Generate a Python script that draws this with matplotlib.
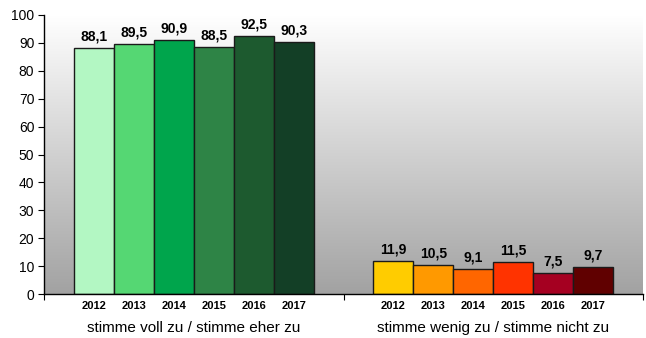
import numpy as np
import matplotlib
matplotlib.use("Agg")
import matplotlib.pyplot as plt

plt.rcParams['font.family'] = ['Liberation Sans', 'DejaVu Sans']

categories = ["stimme voll zu / stimme eher zu", "stimme wenig zu / stimme nicht zu"]
years = ["2012", "2013", "2014", "2015", "2016", "2017"]
agree = [88.1, 89.5, 90.9, 88.5, 92.5, 90.3]
disagree = [11.9, 10.5, 9.1, 11.5, 7.5, 9.7]
green_colors = ["#b3f7c3", "#55d773", "#00a54c", "#2e8446", "#1d5a2f", "#133f26"]
red_colors = ["#ffcc00", "#ff9900", "#ff6600", "#ff3300", "#a50021", "#600000"]

fig = plt.figure(figsize=(6.46, 3.38), dpi=100)
ax = fig.add_axes([44/646, 1-294/338, 599/646, 279/338])
ax.set_xlim(-0.5, 1.5)
ax.set_ylim(0, 100)

grad = np.linspace(1, 0, 256).reshape(-1, 1)
cmap = matplotlib.colors.LinearSegmentedColormap.from_list("g", ["#a2a2a2", "#ffffff"])
ax.imshow(grad, extent=[-0.5, 1.5, 0, 100], aspect="auto", cmap=cmap,
          vmin=0, vmax=1, zorder=0, origin="upper")

n = len(years)
w = 0.8 / n
for ci, (vals, cols) in enumerate([(agree, green_colors), (disagree, red_colors)]):
    for i, (v, c) in enumerate(zip(vals, cols)):
        x = ci - 0.4 + w * (i + 0.5)
        ax.bar(x, v, width=w, color=c, edgecolor="#1a1a1a", linewidth=1.0, zorder=2)
        ax.text(x, v + 1.6, f"{v:.1f}".replace(".", ","), ha="center", va="bottom",
                fontsize=10, fontweight="bold", zorder=3)
        ax.text(x, -2.6, years[i], ha="center", va="top", fontsize=8,
                fontweight="bold", clip_on=False)
    ax.text(ci, -9.6, categories[ci], ha="center", va="top", fontsize=11, clip_on=False)

ax.set_yticks(range(0, 101, 10))
ax.tick_params(axis="y", labelsize=10, length=4, width=0.8, pad=3)
ax.set_xticks([-0.5, 0.5, 1.5])
ax.set_xticklabels([])
ax.tick_params(axis="x", length=4, width=0.8, direction="out")
for s in ["top", "right"]:
    ax.spines[s].set_visible(False)
ax.spines["left"].set_linewidth(1.0)
ax.spines["bottom"].set_linewidth(1.0)

fig.savefig("out.png", dpi=100)
